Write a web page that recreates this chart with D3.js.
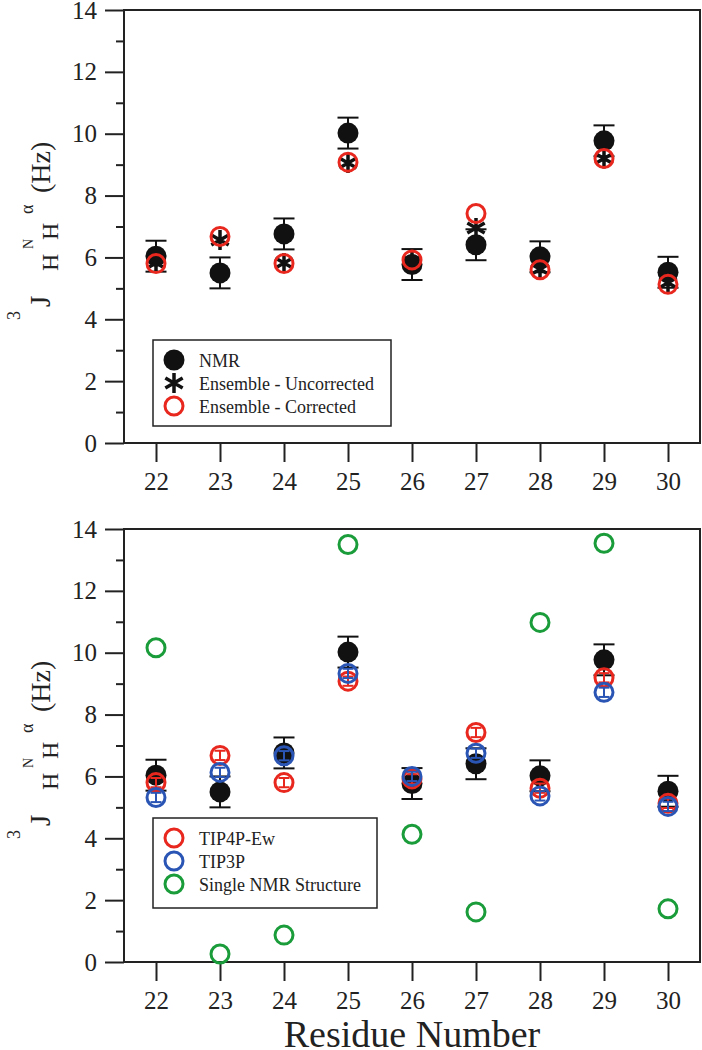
<!DOCTYPE html>
<meta charset="utf-8">
<style>
    body { margin: 0; background: #fff; }
    svg { display: block; }
    .axis path { display: none; }
    .axis line { stroke: #222; stroke-width: 2px; }
    .frame { fill: none; stroke: #222; stroke-width: 2px; }
    .legend rect { fill: #fff; stroke: #222; stroke-width: 1.5px; }
</style>
<svg width="702" height="1050" font-family="Liberation Serif, Times New Roman, serif"></svg>
<script src="https://d3js.org/d3.v7.min.js"></script>
<script>
    // values
    const residues = [22, 23, 24, 25, 26, 27, 28, 29, 30];
    const nmrJ = [6.04, 5.50, 6.76, 10.02, 5.77, 6.41, 6.02, 9.77, 5.52];
    const nmrErr = [0.5, 0.5, 0.5, 0.5, 0.5, 0.5, 0.5, 0.5, 0.5];
    const ensUncorrected = [5.82, 6.56, 5.82, 9.05, 5.85, 6.95, 5.62, 9.20, 5.18];
    const ensCorrected = [5.80, 6.68, 5.80, 9.08, 5.92, 7.42, 5.60, 9.20, 5.13];
    const tip4pEw = [5.80, 6.68, 5.80, 9.08, 5.92, 7.42, 5.62, 9.19, 5.13];
    const tip4pErr = [0.15, 0.15, 0.15, 0.15, 0.15, 0.15, 0.15, 0.15, 0.15];
    const tip3p = [5.32, 6.13, 6.67, 9.33, 6.00, 6.75, 5.37, 8.72, 5.03];
    const tip3pErr = [0.15, 0.15, 0.15, 0.15, 0.15, 0.15, 0.15, 0.15, 0.15];
    const singleNmr = [10.16, 0.26, 0.87, 13.50, 4.13, 1.62, 10.98, 13.54, 1.72];
    const yMajor = [0, 2, 4, 6, 8, 10, 12, 14];
    const yMinor = [1, 3, 5, 7, 9, 11, 13];

    const serif = "Liberation Serif, Times New Roman, serif";
    const red = "#e8281e", blue = "#2a55b5", green = "#1a9c3a", black = "#111";

    var svg = d3.select("svg");

    var x = d3.scaleLinear().domain([21.5, 30.5]).range([124, 700]);

    function zip(vals, errs) {
        return residues.map(function(r, i) {
            return { res: r, v: vals[i], e: errs ? errs[i] : 0 };
        });
    }

    function asteriskPath(r) {
        var p = "";
        [90, 30, 150].forEach(function(a) {
            var t = a * Math.PI / 180, dx = r * Math.cos(t), dy = r * Math.sin(t);
            p += "M" + (-dx) + "," + (-dy) + "L" + dx + "," + dy;
        });
        return p;
    }

    function drawErrors(g, data, y, color, capW) {
        var eb = g.append("g").selectAll("g").data(data).enter().append("g")
            .attr("stroke", color).attr("stroke-width", 2);
        eb.append("line")
            .attr("x1", d => x(d.res)).attr("x2", d => x(d.res))
            .attr("y1", d => y(d.v - d.e)).attr("y2", d => y(d.v + d.e));
        eb.append("line")
            .attr("x1", d => x(d.res) - capW / 2).attr("x2", d => x(d.res) + capW / 2)
            .attr("y1", d => y(d.v + d.e)).attr("y2", d => y(d.v + d.e));
        eb.append("line")
            .attr("x1", d => x(d.res) - capW / 2).attr("x2", d => x(d.res) + capW / 2)
            .attr("y1", d => y(d.v - d.e)).attr("y2", d => y(d.v - d.e));
    }

    function drawFilled(g, data, y) {
        g.append("g").selectAll("circle").data(data).enter().append("circle")
            .attr("cx", d => x(d.res)).attr("cy", d => y(d.v))
            .attr("r", 10.5).attr("fill", black);
    }

    function drawRing(g, data, y, color) {
        g.append("g").selectAll("circle").data(data).enter().append("circle")
            .attr("cx", d => x(d.res)).attr("cy", d => y(d.v))
            .attr("r", 9).attr("fill", "none").attr("stroke", color).attr("stroke-width", 3);
    }

    function drawStars(g, data, y) {
        g.append("g").selectAll("path").data(data).enter().append("path")
            .attr("transform", d => "translate(" + x(d.res) + "," + y(d.v) + ")")
            .attr("d", asteriskPath(10)).attr("stroke", black).attr("stroke-width", 3.5)
            .attr("fill", "none");
    }

    function styleTicks(sel) {
        sel.attr("font-family", serif).attr("font-size", 25);
        sel.selectAll("text").attr("fill", "#222");
    }

    function drawAxes(top, bottom) {
        var y = d3.scaleLinear().domain([0, 14]).range([bottom, top]);

        svg.append("g")
            .attr("class", "axis")
            .attr("transform", "translate(124,0)")
            .call(d3.axisLeft(y).tickValues(yMajor).tickSize(19).tickPadding(8).tickFormat(d3.format("d")))
            .call(styleTicks);

        svg.append("g")
            .attr("class", "axis")
            .attr("transform", "translate(124,0)")
            .call(d3.axisLeft(y).tickValues(yMinor).tickSize(8).tickFormat(""));

        svg.append("g")
            .attr("class", "axis")
            .attr("transform", "translate(0," + bottom + ")")
            .call(d3.axisBottom(x).tickValues(residues).tickSize(19).tickPadding(10).tickFormat(d3.format("d")))
            .call(styleTicks);

        svg.append("rect")
            .attr("class", "frame")
            .attr("x", 124).attr("y", top)
            .attr("width", 700 - 124).attr("height", bottom - top);

        return y;
    }

    function drawYLabel(bottomY) {
        var t = svg.append("text")
            .attr("transform", "translate(50," + bottomY + ") rotate(-90)")
            .attr("font-family", serif)
            .attr("fill", "#222");
        var parts = [
            { s: "3", x: 2, y: -30, f: 18 },
            { s: "J", x: 15, y: 0, f: 29 },
            { s: "H", x: 51, y: 8, f: 24 },
            { s: "N", x: 73, y: -17, f: 14 },
            { s: "H", x: 82, y: 8, f: 24 },
            { s: "\u03b1", x: 108, y: -17, f: 18 },
            { s: "(Hz)", x: 129, y: 0, f: 28 }
        ];
        parts.forEach(function(p) {
            t.append("tspan").attr("x", p.x).attr("y", p.y)
                .attr("font-size", p.f).text(p.s);
        });
    }

    function drawLegend(left, top, w, h, items) {
        var lg = svg.append("g").attr("class", "legend");
        lg.append("rect").attr("x", left).attr("y", top).attr("width", w).attr("height", h);
        items.forEach(function(it, i) {
            var cy = top + 20 + i * 23;
            var sx = left + 21;
            if (it.kind === "filled") {
                lg.append("circle").attr("cx", sx).attr("cy", cy).attr("r", 10.5).attr("fill", black);
            } else if (it.kind === "star") {
                lg.append("path").attr("transform", "translate(" + sx + "," + cy + ")")
                    .attr("d", asteriskPath(10)).attr("stroke", black).attr("stroke-width", 3.5);
            } else {
                lg.append("circle").attr("cx", sx).attr("cy", cy).attr("r", 9)
                    .attr("fill", "none").attr("stroke", it.color).attr("stroke-width", 3);
            }
            lg.append("text").attr("x", left + 46).attr("y", cy + 6.5)
                .attr("font-family", serif).attr("font-size", 18).attr("fill", "#222")
                .text(it.label);
        });
    }

    // top panel
    var yTop = drawAxes(10, 443);
    var gTop = svg.append("g");
    drawErrors(gTop, zip(nmrJ, nmrErr), yTop, black, 21);
    drawFilled(gTop, zip(nmrJ), yTop);
    drawStars(gTop, zip(ensUncorrected), yTop);
    drawRing(gTop, zip(ensCorrected), yTop, red);
    drawYLabel(322);
    drawLegend(153, 340, 238, 86, [
        { kind: "filled", label: "NMR" },
        { kind: "star", label: "Ensemble - Uncorrected" },
        { kind: "ring", color: red, label: "Ensemble - Corrected" }
    ]);

    // bottom panel
    var yBot = drawAxes(529, 962);
    var gBot = svg.append("g");
    drawErrors(gBot, zip(nmrJ, nmrErr), yBot, black, 21);
    drawFilled(gBot, zip(nmrJ), yBot);
    drawErrors(gBot, zip(tip4pEw, tip4pErr), yBot, red, 11);
    drawRing(gBot, zip(tip4pEw), yBot, red);
    drawErrors(gBot, zip(tip3p, tip3pErr), yBot, blue, 11);
    drawRing(gBot, zip(tip3p), yBot, blue);
    drawRing(gBot, zip(singleNmr), yBot, green);
    drawYLabel(841);
    drawLegend(153, 818, 224, 90, [
        { kind: "ring", color: red, label: "TIP4P-Ew" },
        { kind: "ring", color: blue, label: "TIP3P" },
        { kind: "ring", color: green, label: "Single NMR Structure" }
    ]);

    svg.append("text")
        .attr("x", 412).attr("y", 1047)
        .attr("text-anchor", "middle")
        .attr("font-family", serif)
        .attr("font-size", 38)
        .attr("fill", "#222")
        .text("Residue Number");
</script>
